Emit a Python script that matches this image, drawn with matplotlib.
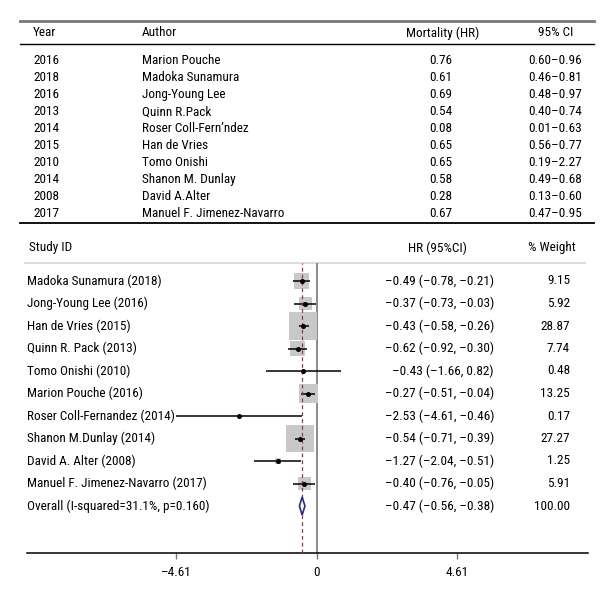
import numpy as np
import matplotlib
matplotlib.use("Agg")
import matplotlib.pyplot as plt
from matplotlib import font_manager
from matplotlib.font_manager import FontProperties
from matplotlib.transforms import blended_transform_factory
from matplotlib.patches import Polygon

# top table
years = [2016, 2018, 2016, 2013, 2014, 2015, 2010, 2014, 2008, 2017]
authors = ["Marion Pouche", "Madoka Sunamura", "Jong-Young Lee", "Quinn R.Pack",
           "Roser Coll-Fern\u2019ndez", "Han de Vries", "Tomo Onishi",
           "Shanon M. Dunlay", "David A.Alter", "Manuel F. Jimenez-Navarro"]
mort_hr = ["0.76", "0.61", "0.69", "0.54", "0.08", "0.65", "0.65", "0.58", "0.28", "0.67"]
mort_ci = ["0.60\u20130.96", "0.46\u20130.81", "0.48\u20130.97", "0.40\u20130.74",
           "0.01\u20130.63", "0.56\u20130.77", "0.19\u20132.27", "0.49\u20130.68",
           "0.13\u20130.60", "0.47\u20130.95"]

# forest plot
studies = ["Madoka Sunamura (2018)", "Jong-Young Lee (2016)", "Han de Vries (2015)",
           "Quinn R. Pack (2013)", "Tomo Onishi (2010)", "Marion Pouche (2016)",
           "Roser Coll-Fernandez (2014)", "Shanon M.Dunlay (2014)",
           "David A. Alter (2008)", "Manuel F. Jimenez-Navarro (2017)"]
est = [-0.49, -0.37, -0.43, -0.62, -0.43, -0.27, -2.53, -0.54, -1.27, -0.40]
lo = [-0.78, -0.73, -0.58, -0.92, -1.66, -0.51, -4.61, -0.71, -2.04, -0.76]
hi = [-0.21, -0.03, -0.26, -0.30, 0.82, -0.04, -0.46, -0.39, -0.51, -0.05]
weight = [9.15, 5.92, 28.87, 7.74, 0.48, 13.25, 0.17, 27.27, 1.25, 5.91]
overall_label = "Overall (I-squared=31.1%, p=0.160)"
overall = (-0.47, -0.56, -0.38)
overall_w = 100.00
xticks = [-4.61, 0, 4.61]


# pick a narrow font if one is installed
def pick_font():
    ents = font_manager.fontManager.ttflist
    for key in ["Liberation Sans Narrow", "Roboto Condensed", "Open Sans Condensed",
                "Noto Sans Condensed", "DejaVu Sans Condensed"]:
        for e in ents:
            if e.name == key and e.weight in (400, "normal", "regular") and e.style == "normal":
                return e.fname
    for e in ents:
        if (str(e.stretch) in ("condensed", "semi-condensed")
                and e.style == "normal" and e.weight in (400, "normal", "regular")):
            return e.fname
    for e in ents:
        if e.name in ("Lato",) and e.style == "normal" and e.weight in (400, "normal", "regular"):
            return e.fname
    return font_manager.findfont("DejaVu Sans")


fp = FontProperties(fname=pick_font())

fig = plt.figure(figsize=(6.15, 6.0), dpi=100)
rend = fig.canvas.get_renderer()

# scale the size so the label widths are close to the original
probe = fig.text(0, 0, studies[0], fontproperties=fp, size=10)
wpx = probe.get_window_extent(rend).width
probe.remove()
fs = float(np.clip(10 * 135 / wpx, 7.5, 11))

# full-figure axes in pixel units for table and text columns
tax = fig.add_axes([0, 0, 1, 1])
tax.set_xlim(0, 615)
tax.set_ylim(600, 0)
tax.axis("off")


def T(x, y, s, **kw):
    kw.setdefault("va", "center")
    return tax.text(x, y, s, fontproperties=fp, size=fs, **kw)


tax.plot([20, 594], [21, 21], color="#777777", lw=2)
tax.plot([20, 594], [44, 44], color="black", lw=1)
tax.plot([20, 594], [223, 223], color="black", lw=1.3)

T(33, 33, "Year")
T(142, 33, "Author")
T(443, 33, "Mortality (HR)", ha="center")
T(556, 33, "95% CI", ha="center")
for i in range(len(years)):
    y = 61 + 16.9 * i
    T(33, y, str(years[i]))
    T(142, y, authors[i])
    T(441, y, mort_hr[i], ha="center")
    T(555, y, mort_ci[i], ha="center")

# forest axes: 0 at x=316.5px, 30.48 px per unit
left_px, right_px, top_px, bot_px = 27, 588, 263, 553
fax = fig.add_axes([left_px / 615, (600 - bot_px) / 600,
                    (right_px - left_px) / 615, (bot_px - top_px) / 600])
fax.set_facecolor("none")
ppu = 30.48
fax.set_xlim((left_px - 316.5) / ppu, (right_px - 316.5) / ppu)
fax.set_ylim((bot_px - 281) / 22.5, (top_px - 281) / 22.5)
for s in ["top", "left", "right"]:
    fax.spines[s].set_visible(False)
fax.spines["bottom"].set_linewidth(1.1)
fax.set_yticks([])
fax.set_xticks(xticks)
fax.set_xticklabels([f"{t:.2f}".replace("-", "\u2013") if t != 0 else "0" for t in xticks])
for lab in fax.get_xticklabels():
    lab.set_fontproperties(fp)
    lab.set_fontsize(fs)
fax.tick_params(axis="x", length=4, width=1, color="#777777", pad=5)

rows = np.arange(len(studies))
fax.axvline(0, color="#777777", lw=1.2, zorder=1)
fax.axvline(overall[0], color="#8e3a4a", lw=0.9, ls=(0, (3, 2.5)), zorder=4)
fax.scatter(est, rows, s=14 * np.array(weight), marker="s", color="#c8c8c8",
            linewidths=0, zorder=2)
fax.hlines(rows, lo, hi, color="black", lw=1.1, zorder=3)
fax.plot(est, rows, "o", color="black", ms=2.6, zorder=5)

oy = len(studies)
dia = Polygon([(overall[1], oy), (overall[0], oy - 0.4), (overall[2], oy),
               (overall[0], oy + 0.4)], closed=True, facecolor="white",
              edgecolor="#2a2a80", lw=1.2, zorder=5)
fax.add_patch(dia)


def fmt(v):
    return f"{v:.2f}".replace("-", "\u2013")


# text columns: x in pixels, y in row units
tr = blended_transform_factory(tax.transData, fax.transData)
T(29, 248, "Study ID")
T(437, 248, "HR (95%CI)", ha="center")
T(576, 248, "% Weight", ha="right")
tax.plot([25, 585], [263, 263], color="#dddddd", lw=1.5)

for i in range(len(studies)):
    T(27, rows[i], studies[i], transform=tr)
    T(494, rows[i], f"{fmt(est[i])} ({fmt(lo[i])}, {fmt(hi[i])})", ha="right", transform=tr)
    T(570, rows[i], f"{weight[i]:.2f}", ha="right", transform=tr)
T(27, oy, overall_label, transform=tr)
T(494, oy, f"{fmt(overall[0])} ({fmt(overall[1])}, {fmt(overall[2])})", ha="right", transform=tr)
T(570, oy, f"{overall_w:.2f}", ha="right", transform=tr)

fig.savefig("out.png", dpi=100)
